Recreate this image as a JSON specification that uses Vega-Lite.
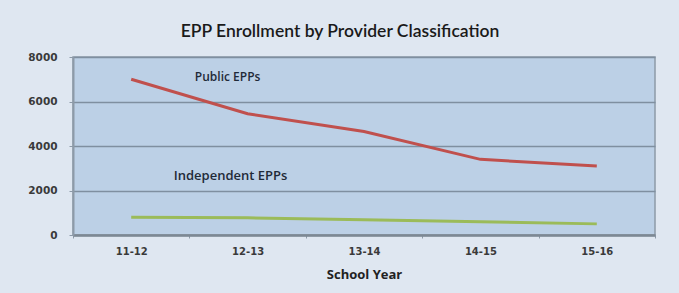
{
  "$schema": "https://vega.github.io/schema/vega-lite/v6.json",
  "autosize": "none",
  "width": 582,
  "height": 178,
  "padding": {"left": 73, "top": 57, "right": 24, "bottom": 58},
  "background": "#dfe7f1",
  "title": {
    "text": "EPP Enrollment by Provider Classification",
    "anchor": "middle",
    "dx": -24,
    "offset": 12,
    "font": "Lato",
    "fontSize": 17.5,
    "fontWeight": 600,
    "color": "#1a1a1a"
  },
  "config": {
    "view": {"fill": "#bcd0e6", "stroke": "#8d9aa8", "strokeWidth": 1.5},
    "axis": {"labelFont": "DejaVu Sans", "titleFont": "Open Sans", "labelColor": "#3a3a3a", "titleColor": "#222222"}
  },
  "datasets": {
    "lines": [
      {"year": "11-12", "series": "Public EPPs", "enrollment": 7000},
      {"year": "12-13", "series": "Public EPPs", "enrollment": 5450},
      {"year": "13-14", "series": "Public EPPs", "enrollment": 4650},
      {"year": "14-15", "series": "Public EPPs", "enrollment": 3400},
      {"year": "15-16", "series": "Public EPPs", "enrollment": 3100},
      {"year": "11-12", "series": "Independent EPPs", "enrollment": 800},
      {"year": "12-13", "series": "Independent EPPs", "enrollment": 770},
      {"year": "13-14", "series": "Independent EPPs", "enrollment": 680},
      {"year": "14-15", "series": "Independent EPPs", "enrollment": 600},
      {"year": "15-16", "series": "Independent EPPs", "enrollment": 500}
    ],
    "publicLabel": [
      {"year": "12-13", "label": "Public EPPs", "enrollment": 7100}
    ],
    "independentLabel": [
      {"year": "12-13", "label": "Independent EPPs", "enrollment": 2650}
    ]
  },
  "layer": [
    {
      "data": {"name": "lines"},
      "mark": {"type": "line", "strokeWidth": 3},
      "encoding": {
        "x": {
          "field": "year",
          "type": "ordinal",
          "sort": ["11-12", "12-13", "13-14", "14-15", "15-16"],
          "scale": {"type": "band", "paddingInner": 0, "paddingOuter": 0},
          "axis": {
            "title": "School Year",
            "titleFontSize": 13,
            "titleFontWeight": "bold",
            "titlePadding": 12,
            "labelAngle": 0,
            "labelFontSize": 10,
            "labelFontWeight": "bold",
            "labelPadding": 8,
            "tickBand": "extent",
            "ticks": true,
            "tickSize": 3,
            "tickColor": "#8d9aa8",
            "domainColor": "#7d8894",
            "domainWidth": 2.5,
            "grid": false
          }
        },
        "y": {
          "field": "enrollment",
          "type": "quantitative",
          "scale": {"domain": [0, 8000]},
          "axis": {
            "title": null,
            "values": [0, 2000, 4000, 6000, 8000],
            "format": "d",
            "labelFontSize": 10.5,
            "labelFontWeight": "bold",
            "labelPadding": 12,
            "tickSize": 4,
            "tickColor": "#8d9aa8",
            "domainColor": "#8d9aa8",
            "domainWidth": 2,
            "grid": true,
            "gridColor": "#7f8fa0",
            "gridWidth": 1.5
          }
        },
        "color": {
          "field": "series",
          "type": "nominal",
          "scale": {"domain": ["Public EPPs", "Independent EPPs"], "range": ["#c0504d", "#9bbb59"]},
          "legend": null
        }
      }
    },
    {
      "data": {"name": "publicLabel"},
      "mark": {"type": "text", "dx": -20, "font": "Open Sans", "fontSize": 12, "fontWeight": 600, "color": "#1f2a38", "align": "center", "baseline": "middle"},
      "encoding": {
        "x": {"field": "year", "type": "ordinal", "sort": ["11-12", "12-13", "13-14", "14-15", "15-16"]},
        "y": {"field": "enrollment", "type": "quantitative"},
        "text": {"field": "label"}
      }
    },
    {
      "data": {"name": "independentLabel"},
      "mark": {"type": "text", "dx": -17, "font": "Open Sans", "fontSize": 13, "fontWeight": 600, "color": "#1f2a38", "align": "center", "baseline": "middle"},
      "encoding": {
        "x": {"field": "year", "type": "ordinal", "sort": ["11-12", "12-13", "13-14", "14-15", "15-16"]},
        "y": {"field": "enrollment", "type": "quantitative"},
        "text": {"field": "label"}
      }
    }
  ]
}
